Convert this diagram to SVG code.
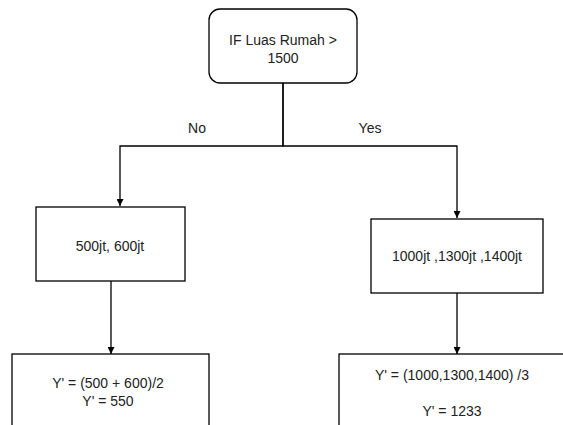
<svg xmlns="http://www.w3.org/2000/svg" width="563" height="425" viewBox="0 0 563 425">
  <style>
    .box { fill: #ffffff; stroke: #000000; stroke-width: 1.3; }
    .edge { fill: none; stroke: #000000; stroke-width: 1.3; }
    text { font-family: "Liberation Sans", Arial, sans-serif; font-size: 14px; fill: #222222; text-anchor: middle; }
  </style>
  <defs>
    <marker id="arrow" viewBox="0 0 10 10" refX="10" refY="5" markerWidth="7" markerHeight="7" markerUnits="userSpaceOnUse" orient="auto">
      <path d="M0,0 L10,5 L0,10 Z" fill="#000000"/>
    </marker>
  </defs>
  <rect width="563" height="425" fill="#ffffff"/>

  <g id="connectors">
    <path class="edge" d="M283,83 V146 H120 V206" marker-end="url(#arrow)"/>
    <path class="edge" d="M283,83 V146 H457 V218" marker-end="url(#arrow)"/>
    <path class="edge" d="M111,281 V354" marker-end="url(#arrow)"/>
    <path class="edge" d="M457,293 V354" marker-end="url(#arrow)"/>
    <text x="197" y="133">No</text>
    <text x="370" y="133">Yes</text>
  </g>

  <g id="decision">
    <rect class="box" x="209" y="9" width="148" height="74" rx="11" ry="11"/>
    <text x="283" y="45">IF Luas Rumah &gt;</text>
    <text x="283" y="63">1500</text>
  </g>

  <g id="no-values">
    <rect class="box" x="36" y="207" width="149" height="74"/>
    <text x="110" y="251">500jt, 600jt</text>
  </g>

  <g id="yes-values">
    <rect class="box" x="371" y="219" width="172" height="74"/>
    <text x="457" y="261">1000jt ,1300jt ,1400jt</text>
  </g>

  <g id="no-result">
    <rect class="box" x="12" y="354" width="197" height="80"/>
    <text x="108" y="388">Y' = (500 + 600)/2</text>
    <text x="108" y="406">Y' = 550</text>
  </g>

  <g id="yes-result">
    <rect class="box" x="339" y="354" width="230" height="80"/>
    <text x="452" y="380">Y' = (1000,1300,1400) /3</text>
    <text x="452" y="416">Y' = 1233</text>
  </g>
</svg>
